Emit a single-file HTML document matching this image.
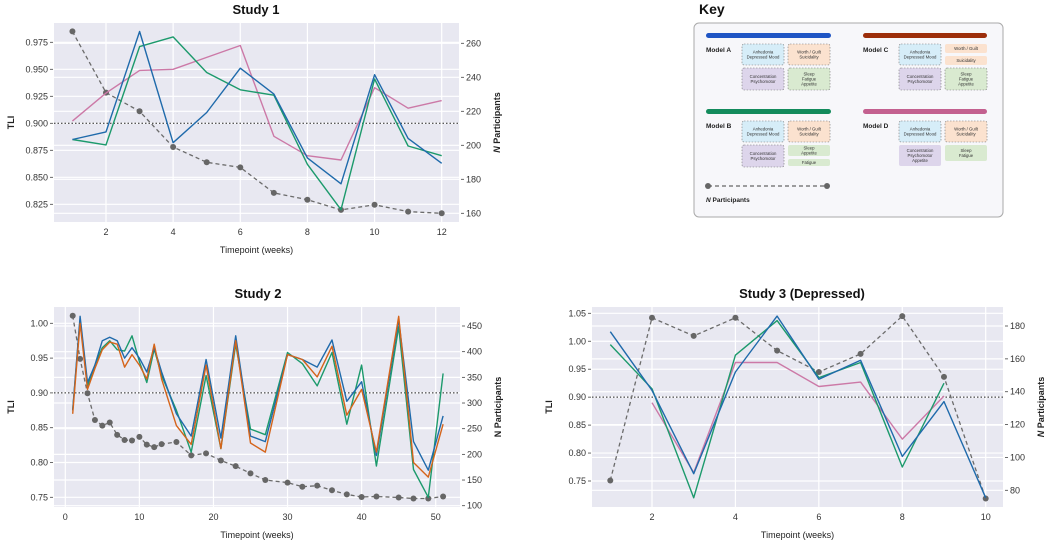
<!DOCTYPE html>
<html><head><meta charset="utf-8"><style>
html,body{margin:0;padding:0;background:#fff;}
svg{display:block;font-family:"Liberation Sans",sans-serif;}
</style></head><body>
<svg id="fig" width="1050" height="544" viewBox="0 0 1050 544" xmlns="http://www.w3.org/2000/svg">
<g id="key">
  <text x="699" y="14" font-size="14" font-weight="bold" fill="#111">Key</text>
  <rect x="694" y="23" width="309" height="194" rx="5" fill="#f7f7fa" stroke="#aaa" stroke-width="1"/>
  <rect x="706" y="33" width="125" height="5" rx="2.5" fill="#1f55c4"/>
  <rect x="863" y="33" width="124" height="5" rx="2.5" fill="#9c2e0a"/>
  <rect x="706" y="109" width="125" height="5" rx="2.5" fill="#138b5c"/>
  <rect x="863" y="109" width="124" height="5" rx="2.5" fill="#c3608f"/>
  <text x="706" y="52" font-size="6.5" font-weight="bold" fill="#222">Model A</text>
  <text x="863" y="52" font-size="6.5" font-weight="bold" fill="#222">Model C</text>
  <text x="706" y="128" font-size="6.5" font-weight="bold" fill="#222">Model B</text>
  <text x="863" y="128" font-size="6.5" font-weight="bold" fill="#222">Model D</text>
  <g id="keyboxes"></g>
  <line x1="708" y1="186" x2="827" y2="186" stroke="#666" stroke-width="1.2" stroke-dasharray="4,3"/>
  <circle cx="708" cy="186" r="3" fill="#666"/>
  <circle cx="827" cy="186" r="3" fill="#666"/>
  <text x="706" y="202" font-size="6.5" font-weight="bold" fill="#222"><tspan font-style="italic">N</tspan> Participants</text>
</g>
<g id="charts"></g>
</svg>
<script>
// ---- Study 1 data ----
const s1Weeks = [1,2,3,4,5,6,7,8,9,10,11,12];
const s1ModelA = [0.885,0.892,0.985,0.882,0.910,0.951,0.927,0.868,0.844,0.945,0.886,0.863];
const s1ModelB = [0.885,0.880,0.971,0.980,0.947,0.931,0.926,0.862,0.820,0.941,0.879,0.870];
const s1ModelD = [0.902,0.928,0.949,0.950,0.961,0.972,0.888,0.870,0.866,0.933,0.914,0.921];
const s1N = [267,231,220,199,190,187,172,168,162,165,161,160];
const s1XTicks = [2,4,6,8,10,12];
const s1YTicks = [0.825,0.850,0.875,0.900,0.925,0.950,0.975];
const s1RTicks = [160,180,200,220,240,260];
// ---- Study 2 data ----
const s2Weeks = [1,2,3,4,5,6,7,8,9,10,11,12,13,15,17,19,21,23,25,27,30,32,34,36,38,40,42,45,47,49,51];
const s2ModelA = [0.875,1.010,0.915,0.940,0.975,0.980,0.975,0.950,0.965,0.950,0.930,0.965,0.930,0.870,0.838,0.948,0.835,0.982,0.838,0.830,0.955,0.948,0.937,0.976,0.888,0.916,0.810,1.005,0.830,0.789,0.867];
const s2ModelC = [0.870,1.000,0.905,0.935,0.962,0.973,0.970,0.937,0.955,0.940,0.920,0.970,0.920,0.853,0.826,0.940,0.820,0.975,0.828,0.815,0.955,0.948,0.923,0.967,0.868,0.905,0.815,1.010,0.800,0.779,0.855];
const s2ModelB = [0.875,1.005,0.910,0.940,0.965,0.975,0.962,0.960,0.982,0.945,0.915,0.963,0.925,0.875,0.815,0.925,0.820,0.970,0.848,0.840,0.958,0.942,0.910,0.958,0.855,0.940,0.795,0.995,0.790,0.750,0.928];
const s2N = [470,386,319,267,256,262,238,228,227,234,219,214,220,224,198,202,188,177,163,150,145,137,139,130,122,117,118,116,114,114,118];
const s2XTicks = [0,10,20,30,40,50];
const s2YTicks = [0.75,0.80,0.85,0.90,0.95,1.00];
const s2RTicks = [100,150,200,250,300,350,400,450];
// ---- Study 3 data ----
const s3Weeks = [1,2,3,4,5,6,7,8,9,10];
const s3ModelA = [1.017,0.912,0.763,0.945,1.045,0.932,0.966,0.794,0.892,0.720];
const s3ModelB = [0.994,0.915,0.720,0.975,1.037,0.935,0.962,0.775,0.925,null];
const s3ModelD = [null,0.890,0.765,0.962,0.962,0.919,0.927,0.825,0.902,null];
const s3N = [86,185,174,185,165,152,163,186,149,75];
const s3XTicks = [2,4,6,8,10];
const s3YTicks = [0.75,0.80,0.85,0.90,0.95,1.00,1.05];
const s3RTicks = [80,100,120,140,160,180];

const NS='http://www.w3.org/2000/svg';
function mk(tag,attrs,parent){const e=document.createElementNS(NS,tag);for(const k in attrs)e.setAttribute(k,attrs[k]);if(parent)parent.appendChild(e);return e;}
function lin(d0,p0,d1,p1){return v=>p0+(v-d0)*(p1-p0)/(d1-d0);}
const root=document.getElementById('charts');

function panel(cfg){
  const g=mk('g',{},root);
  
  
  const bg=mk('rect',{x:cfg.x0,y:cfg.y0,width:cfg.x1-cfg.x0,height:cfg.y1-cfg.y0,fill:'#e8e8f1'},g);
  
  
  const X=cfg.X,YL=cfg.YL,YR=cfg.YR;
  cfg.yTicks.forEach(t=>{const y=YL(t);
    mk('line',{x1:cfg.x0,x2:cfg.x1,y1:y,y2:y,stroke:'#fff','stroke-width':1.2},g);
    mk('line',{x1:cfg.x0-4,x2:cfg.x0-1,y1:y,y2:y,stroke:'#444','stroke-width':0.8},g);
    const tx=mk('text',{x:cfg.x0-6,y:y+3,'font-size':9,'text-anchor':'end',fill:'#333'},g);tx.textContent=t.toFixed(cfg.yDec);
    
    });
  cfg.rTicks.forEach(t=>{const y=YR(t);
    mk('line',{x1:cfg.x0,x2:cfg.x1,y1:y,y2:y,stroke:'#fff','stroke-width':1.2},g);
    mk('line',{x1:cfg.x1+2,x2:cfg.x1+5,y1:y,y2:y,stroke:'#444','stroke-width':0.8},g);
    const tx=mk('text',{x:cfg.x1+7,y:y+3,'font-size':9,fill:'#333'},g);tx.textContent=t;
    
    });
  cfg.xTicks.forEach(t=>{const x=X(t);
    mk('line',{x1:x,x2:x,y1:cfg.y0,y2:cfg.y1,stroke:'#fff','stroke-width':1.2},g);
    const tx=mk('text',{x:x,y:cfg.y1+13,'font-size':9,'text-anchor':'middle',fill:'#333'},g);tx.textContent=t;
    
    });
  const th=mk('line',{x1:cfg.x0,x2:cfg.x1,y1:YL(0.9),y2:YL(0.9),stroke:'#222','stroke-width':1,'stroke-dasharray':'1.5,2'},g);
  
  
  // N participants
  let d='';cfg.weeks.forEach((w,i)=>{d+=(i?'L':'M')+X(w).toFixed(1)+','+YR(cfg.n[i]).toFixed(1);});
  const np=mk('path',{d:d,fill:'none',stroke:'#6b6b6b','stroke-width':1.3,'stroke-dasharray':'4,3'},g);
  
  
  cfg.weeks.forEach((w,i)=>{const c=mk('circle',{cx:X(w),cy:YR(cfg.n[i]),r:3,fill:'#666'},g);
    
    });
  cfg.series.forEach(s=>{let d='',pen=false;
    cfg.weeks.forEach((w,i)=>{const v=s.vals[i];if(v==null){pen=false;return;}
      d+=(pen?'L':'M')+X(w).toFixed(1)+','+YL(v).toFixed(1);pen=true;});
    const p=mk('path',{d:d,fill:'none',stroke:s.color,'stroke-width':1.4,'stroke-linejoin':'round'},g);
    
    });
  const t=mk('text',{x:cfg.tx,y:cfg.y0-9,'font-size':13,'font-weight':'bold','text-anchor':'middle',fill:'#111'},g);t.textContent=cfg.title;
  
  
  const xl=mk('text',{x:(cfg.x0+cfg.x1)/2,y:cfg.y1+31,'font-size':9,'text-anchor':'middle',fill:'#222'},g);xl.textContent='Timepoint (weeks)';
  
  
  const ym=(cfg.y0+cfg.y1)/2;
  const yl=mk('text',{x:0,y:0,'font-size':9,'font-weight':'bold','text-anchor':'middle',fill:'#222',transform:`translate(${cfg.x0-40},${ym}) rotate(-90)`},g);yl.textContent='TLI';
  
  
  const rl=mk('text',{x:0,y:0,'font-size':9,'font-weight':'bold','text-anchor':'middle',fill:'#222',transform:`translate(${cfg.x1+41},${ym}) rotate(-90)`},g);
  rl.innerHTML=(cfg.italicN?'<tspan font-style="italic">N</tspan>':'N')+' Participants';
  
  
}
const BLUE='#1f6aab',GREEN='#1c9a6c',PINK='#cc79a7',ORANGE='#d5641a';
panel({id:'study-1',title:'Study 1',tx:256,x0:54,x1:459,y0:23,y1:222,
  X:lin(2,106,12,441.7),YL:lin(0.975,42.3,0.825,204.3),YR:lin(260,43.3,160,213.3),
  xTicks:s1XTicks,yTicks:s1YTicks,rTicks:s1RTicks,yDec:3,weeks:s1Weeks,n:s1N,italicN:true,
  series:[{name:'model-d-line',vals:s1ModelD,color:PINK},{name:'model-b-line',vals:s1ModelB,color:GREEN},{name:'model-a-line',vals:s1ModelA,color:BLUE}]});
panel({id:'study-2',title:'Study 2',tx:258,x0:54,x1:460,y0:307,y1:507,
  X:lin(0,65.3,50,435.7),YL:lin(1.00,323.3,0.75,497.3),YR:lin(450,326,100,505.7),
  xTicks:s2XTicks,yTicks:s2YTicks,rTicks:s2RTicks,yDec:2,weeks:s2Weeks,n:s2N,italicN:false,
  series:[{name:'model-b-line',vals:s2ModelB,color:GREEN},{name:'model-a-line',vals:s2ModelA,color:BLUE},{name:'model-c-line',vals:s2ModelC,color:ORANGE}]});
panel({id:'study-3',title:'Study 3 (Depressed)',tx:802,x0:592,x1:1003,y0:307,y1:507,
  X:lin(2,652,10,985.7),YL:lin(1.05,313.3,0.75,481),YR:lin(180,326,80,490.3),
  xTicks:s3XTicks,yTicks:s3YTicks,rTicks:s3RTicks,yDec:2,weeks:s3Weeks,n:s3N,italicN:true,
  series:[{name:'model-d-line',vals:s3ModelD,color:PINK},{name:'model-b-line',vals:s3ModelB,color:GREEN},{name:'model-a-line',vals:s3ModelA,color:BLUE}]});

// key boxes
const kb=document.getElementById('keyboxes');
const C={b:'#d6edf8',o:'#fbe2cf',p:'#ddd5eb',g:'#d9ead0'};
function box(x,y,w,h,col,dash,lines){
  const r=mk('rect',{x:x,y:y,width:w,height:h,rx:2,fill:C[col]},kb);
  if(dash){r.setAttribute('stroke','#777');r.setAttribute('stroke-width','0.6');r.setAttribute('stroke-dasharray','1.5,1.5');}
  
  
  const cy=y+h/2-(lines.length-1)*2.6+1.5;
  lines.forEach((l,i)=>{const t=mk('text',{x:x+w/2,y:cy+i*5.2,'font-size':4.3,'text-anchor':'middle',fill:'#333'},kb);t.textContent=l;});
}
// Model A
box(742,44,42,21,'b',1,['Anhedonia','Depressed Mood']);
box(788,44,42,21,'o',1,['Worth / Guilt','Suicidality']);
box(742,68,42,22,'p',1,['Concentration','Psychomotor']);
box(788,68,42,22,'g',1,['Sleep','Fatigue','Appetite']);
// Model C
box(899,44,42,21,'b',1,['Anhedonia','Depressed Mood']);
box(945,44,42,9,'o',0,['Worth / Guilt']);
box(945,56,42,9,'o',0,['Suicidality']);
box(899,68,42,22,'p',1,['Concentration','Psychomotor']);
box(945,68,42,22,'g',1,['Sleep','Fatigue','Appetite']);
// Model B
box(742,121,42,21,'b',1,['Anhedonia','Depressed Mood']);
box(788,121,42,21,'o',1,['Worth / Guilt','Suicidality']);
box(742,145,42,22,'p',1,['Concentration','Psychomotor']);
box(788,145,42,11,'g',0,['Sleep','Appetite']);
box(788,159,42,7,'g',0,['Fatigue']);
// Model D
box(899,121,42,21,'b',1,['Anhedonia','Depressed Mood']);
box(945,121,42,21,'o',1,['Worth / Guilt','Suicidality']);
box(899,145,42,21,'p',0,['Concentration','Psychomotor','Appetite']);
box(945,145,42,16,'g',0,['Sleep','Fatigue']);
</script>
</body></html>
